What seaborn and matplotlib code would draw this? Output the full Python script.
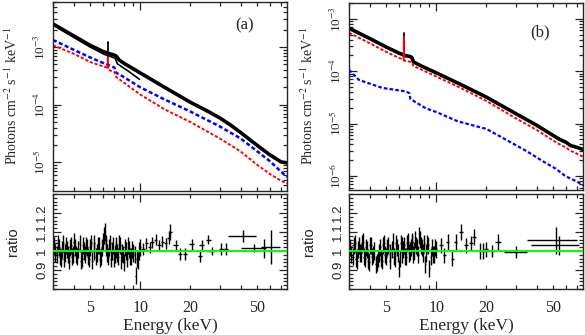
# Unfolded spectra + data/model ratio, two sources side by side
import numpy as np
import pandas as pd
import matplotlib
matplotlib.use("Agg")
import matplotlib.pyplot as plt
import seaborn as sns
from matplotlib.ticker import LogLocator, FixedLocator, MultipleLocator, FuncFormatter, NullFormatter

# ------------------------------------------
# DATA
# ------------------------------------------

# panel (a) spectra
a_black_e = [3, 4, 5, 6, 6.4, 7.0, 7.2, 7.5, 8, 10, 14, 20, 25, 30, 35, 40, 50, 60, 70, 76]
a_black_f = [2.5e-3, 1.55e-3, 1.07e-3, 8.3e-4, 7.8e-4, 7.2e-4, 6.9e-4, 5.9e-4,
             5.2e-4, 3.55e-4, 2.0e-4, 1.10e-4, 7.9e-5, 5.9e-5, 4.4e-5, 3.3e-5, 2.0e-5,
             1.35e-5, 1.02e-5, 9.8e-6]
a_black2_e = [3, 5, 6.1, 6.6, 7.1, 7.3, 8.5, 9.9]
a_black2_f = [2.4e-3, 1.0e-3, 7.4e-4, 6.9e-4, 6.3e-4, 5.1e-4, 3.8e-4, 2.75e-4]
a_line_e = [6.4, 6.4]        # Fe K line in the black data
a_line_f = [7.8e-4, 1.23e-3]
a_blue_e = [3, 4, 5, 5.7, 6.4, 7.0, 7.2, 8, 10, 14, 20, 30, 40, 50, 60, 70, 76]
a_blue_f = [1.32e-3, 8.9e-4, 6.6e-4, 5.6e-4, 4.9e-4, 4.4e-4, 3.55e-4, 3.0e-4, 2.0e-4, 1.23e-4,
            7.6e-5, 4.2e-5, 2.6e-5, 1.58e-5, 1.05e-5, 6.9e-6, 5.6e-6]
a_red_e = [3, 4, 5, 6, 6.38, 6.4, 6.42, 7.0, 7.2, 8, 10, 14, 20, 30, 40, 50, 60, 70, 76]
a_red_f = [1.07e-3, 7.6e-4, 5.5e-4, 4.6e-4, 4.4e-4, 7.8e-4, 4.0e-4, 3.7e-4, 3.0e-4, 2.4e-4,
           1.5e-4, 8.3e-5, 5.0e-5, 2.6e-5, 1.55e-5, 9.2e-6, 6.3e-6, 4.8e-6, 4.3e-6]

# panel (b) spectra
b_e = [3, 4, 5, 6, 6.38, 6.4, 6.42, 7.0, 7.15, 7.3, 8, 10, 14, 20, 30, 40, 50, 55, 60, 64, 68, 72, 76]
b_black_f = [6.6e-4, 4.2e-4, 2.9e-4, 2.2e-4, 2.05e-4, 2.05e-4, 2.0e-4, 1.9e-4, 1.82e-4, 1.51e-4,
             1.29e-4, 9.3e-5, 5.6e-5, 3.2e-5, 1.55e-5, 9.3e-6, 6.0e-6, 5.0e-6, 4.4e-6, 3.8e-6,
             3.6e-6, 3.4e-6, 3.2e-6]
b_red_f = [5.4e-4, 3.4e-4, 2.35e-4, 1.78e-4, 1.66e-4, 4.5e-4, 1.58e-4, 1.51e-4, 1.45e-4, 1.26e-4,
           1.10e-4, 7.9e-5, 4.8e-5, 2.7e-5, 1.26e-5, 7.6e-6, 4.8e-6, 4.0e-6, 3.5e-6, 3.0e-6,
           2.8e-6, 2.5e-6, 2.35e-6]
b_line_e = [6.4, 6.4]        # Fe K line in the black data
b_line_f = [2.05e-4, 5.4e-4]
b_blue_e = [3, 3.44, 4.74, 6.57, 6.9, 7.0, 8.67, 10, 13.5, 20, 27.6, 35, 43.7, 52, 60, 70, 76]
b_blue_f = [1.06e-4, 6.8e-5, 4.8e-5, 4.1e-5, 3.8e-5, 2.95e-5, 1.95e-5, 1.66e-5, 1.10e-5, 7.9e-6,
            4.5e-6, 2.95e-6, 1.9e-6, 1.38e-6, 9.8e-7, 7.8e-7, 6.6e-7]

# ratio, dense part below 10 keV (two interleaved data groups)
lo_e1 = [3.05, 3.15, 3.25, 3.35, 3.45, 3.55, 3.65, 3.75, 3.85, 3.95,
         4.07, 4.2, 4.33, 4.46, 4.6, 4.74, 4.88, 5.02, 5.17, 5.32,
         5.48, 5.64, 5.8, 5.96, 6.12, 6.28, 6.44, 6.6, 6.77, 6.94,
         7.12, 7.3, 7.5, 7.7, 7.9, 8.1, 8.35, 8.6, 8.85, 9.1,
         9.4, 9.7, 10.0]
lo_e2 = [3.1, 3.2, 3.3, 3.4, 3.5, 3.6, 3.7, 3.8, 3.9, 4.0,
         4.13, 4.26, 4.4, 4.53, 4.67, 4.81, 4.95, 5.1, 5.25, 5.4,
         5.56, 5.72, 5.88, 6.04, 6.2, 6.36, 6.52, 6.68, 6.85, 7.03,
         7.2, 7.4, 7.6, 7.8, 8.0, 8.22, 8.47, 8.72, 8.97, 9.25,
         9.55, 9.85]

a_ratio1 = [1.03, 0.98, 1.02, 0.96, 1.04, 0.99, 1.01, 0.95, 1.03, 0.98,
            1.02, 0.97, 1.04, 0.96, 1.00, 1.03, 0.97, 1.02, 0.95, 1.04,
            0.99, 1.03, 0.97, 1.05, 1.10, 1.02, 0.97, 1.04, 1.00, 0.96,
            1.03, 0.99, 1.04, 0.95, 0.98, 1.02, 0.96, 1.01, 0.97, 0.99,
            0.87, 0.95, 1.02]
a_ratio2 = [0.99, 1.04, 0.97, 1.01, 0.96, 1.03, 0.98, 1.02, 0.97, 1.05,
            0.98, 1.01, 0.95, 1.03, 0.98, 1.02, 0.96, 1.04, 1.00, 0.97,
            1.03, 0.96, 1.02, 1.08, 1.04, 0.99, 1.02, 0.96, 1.03, 0.98,
            1.01, 0.97, 1.03, 0.99, 0.94, 1.00, 1.03, 0.97, 1.01, 0.98,
            0.96, 1.00]
b_ratio1 = [1.02, 0.97, 1.04, 0.95, 1.03, 0.99, 1.05, 0.96, 1.01, 0.94,
            1.03, 0.98, 0.93, 0.96, 1.02, 0.95, 1.04, 0.97, 1.03, 0.99,
            1.05, 0.96, 1.02, 0.91, 1.04, 0.98, 1.03, 0.97, 1.05, 1.00,
            1.04, 0.98, 1.06, 1.02, 1.08, 1.03, 0.99, 0.93, 1.04, 0.91,
            1.02, 0.98, 1.01]
b_ratio2 = [0.98, 1.03, 0.96, 1.01, 0.99, 1.04, 0.97, 1.02, 0.95, 1.03,
            0.97, 1.00, 0.94, 0.99, 0.96, 1.03, 0.98, 1.02, 0.95, 1.01,
            0.97, 1.04, 0.99, 0.96, 1.03, 1.01, 0.97, 1.04, 0.99, 1.02,
            1.05, 1.00, 1.03, 0.98, 1.06, 1.02, 1.04, 0.99, 1.03, 0.97,
            0.98, 1.02]
lo_xerr = 0.055
lo_yerr = 0.045

# ratio, sparse part above 10 keV
a_hi_e = [10.4, 10.9, 11.4, 11.8, 12.4, 13.0, 13.6, 14.2, 14.8, 15.2, 16.3, 17.4, 18.6,
          20.4, 22.8, 23.4, 25.6, 26.8, 30.7, 32.8, 41.5, 48.0, 55.4, 61.0]
a_hi_r = [1.01, 1.04, 1.02, 1.045, 1.06, 1.03, 1.05, 1.04, 1.07, 1.10, 1.03, 0.985, 0.985,
          1.035, 0.975, 1.03, 1.06, 1.0, 1.01, 1.01, 1.08, 1.015, 1.015, 1.02]
a_hi_xerr = [0.25, 0.25, 0.25, 0.3, 0.3, 0.3, 0.3, 0.3, 0.3, 0.4, 0.5, 0.5, 0.6,
             0.7, 0.7, 0.8, 0.9, 1.5, 1.0, 1.0, 8.0, 8.0, 1.2, 8.0]
a_hi_yerr = [0.03, 0.03, 0.03, 0.03, 0.03, 0.03, 0.03, 0.03, 0.035, 0.04, 0.03, 0.03, 0.03,
             0.03, 0.03, 0.03, 0.025, 0.02, 0.03, 0.03, 0.03, 0.02, 0.05, 0.09]

b_hi_e = [10.7, 11.2, 11.7, 12.5, 13.1, 14.1, 15.1, 16.2, 16.9, 18.2, 19.0, 19.9, 21.5,
          23.4, 30.2, 52.5, 54.5]
b_hi_r = [1.03, 0.977, 1.047, 0.96, 1.047, 1.10, 1.03, 1.04, 1.074, 1.0, 1.0, 1.01, 1.0,
          1.047, 0.995, 1.056, 1.03]
b_hi_xerr = [0.25, 0.25, 0.25, 0.3, 0.3, 0.35, 0.4, 0.4, 0.45, 0.45, 0.5, 0.5, 1.0,
             1.0, 4.8, 17.5, 17.5]
b_hi_yerr = [0.04, 0.04, 0.04, 0.04, 0.04, 0.04, 0.04, 0.04, 0.04, 0.04, 0.04, 0.04, 0.03,
             0.04, 0.03, 0.07, 0.05]

# ------------------------------------------
# FIGURE SETUP
# ------------------------------------------

sns.set_style("ticks")
plt.rcParams['font.family'] = ['Liberation Serif', 'DejaVu Serif']
plt.rcParams['mathtext.fontset'] = 'stix'

fig = plt.figure(figsize=(5.85, 3.35), dpi=100)

ax_a = fig.add_axes([0.0906, 0.430, 0.400, 0.564])
ax_ar = fig.add_axes([0.0906, 0.137, 0.400, 0.284])
ax_b = fig.add_axes([0.5966, 0.433, 0.400, 0.558])
ax_br = fig.add_axes([0.5966, 0.137, 0.400, 0.284])

dash = (0, (1.6, 1.0))

# ------------------------------------------
# SPECTRA
# ------------------------------------------

sns.lineplot(x=a_blue_e, y=a_blue_f, ax=ax_a, color='#0000ff', lw=1.8, linestyle=dash,
             estimator=None, sort=False)
sns.lineplot(x=a_red_e, y=a_red_f, ax=ax_a, color='#ff0000', lw=1.4, linestyle=dash,
             estimator=None, sort=False)
sns.lineplot(x=a_black_e, y=a_black_f, ax=ax_a, color='black', lw=2.6,
             estimator=None, sort=False)
sns.lineplot(x=a_black2_e, y=a_black2_f, ax=ax_a, color='black', lw=1.2,
             estimator=None, sort=False)
sns.lineplot(x=a_line_e, y=a_line_f, ax=ax_a, color='black', lw=1.3,
             estimator=None, sort=False)

sns.lineplot(x=b_blue_e, y=b_blue_f, ax=ax_b, color='#0000ff', lw=1.6, linestyle=dash,
             estimator=None, sort=False)
sns.lineplot(x=b_e, y=b_black_f, ax=ax_b, color='black', lw=2.6,
             estimator=None, sort=False)
sns.lineplot(x=b_line_e, y=b_line_f, ax=ax_b, color='black', lw=1.3,
             estimator=None, sort=False)
sns.lineplot(x=b_e, y=b_red_f, ax=ax_b, color='#ff0000', lw=1.4, linestyle=dash,
             estimator=None, sort=False)

ax_a.set_ylim(3.2e-6, 6e-3)
ax_b.set_ylim(5.4e-7, 2.0e-3)

# ------------------------------------------
# RATIO PANELS
# ------------------------------------------

for ax, r1, r2, he, hr, hx, hy in [(ax_ar, a_ratio1, a_ratio2, a_hi_e, a_hi_r, a_hi_xerr, a_hi_yerr),
                                   (ax_br, b_ratio1, b_ratio2, b_hi_e, b_hi_r, b_hi_xerr, b_hi_yerr)]:
    ax.errorbar(lo_e1, r1, xerr=lo_xerr, yerr=lo_yerr, fmt='none', ecolor='black', elinewidth=1.0)
    ax.errorbar(lo_e2, r2, xerr=lo_xerr, yerr=lo_yerr, fmt='none', ecolor='black', elinewidth=1.0)
    ax.errorbar(he, hr, xerr=hx, yerr=hy, fmt='none', ecolor='black', elinewidth=1.0)
    ax.axhline(1.0, color='#00ff00', lw=1.4, zorder=5)
    ax.set_ylim(0.8, 1.3)
    ax.yaxis.set_major_locator(FixedLocator([0.9, 1.0, 1.1, 1.2]))
    ax.yaxis.set_major_formatter(FuncFormatter(lambda v, p: f"{v:g}"))
    ax.yaxis.set_minor_locator(MultipleLocator(0.02))
    for lab in ax.get_yticklabels():
        lab.set_family(['Liberation Sans', 'DejaVu Sans'])
    ax.set_ylabel("ratio", family=['Liberation Sans', 'DejaVu Sans'], fontsize=10.5)
    ax.set_xlabel("Energy (keV)", fontsize=12.5, labelpad=1)

# ------------------------------------------
# AXES STYLING
# ------------------------------------------

for ax in [ax_a, ax_b, ax_ar, ax_br]:
    ax.set_xscale('log')
    ax.set_xlim(3, 76)
    ax.xaxis.set_major_locator(FixedLocator([10]))
    ax.xaxis.set_minor_locator(FixedLocator([3, 4, 5, 6, 7, 8, 9, 20, 30, 40, 50, 60, 70]))
    ax.tick_params(which='both', direction='in', top=True, right=True, width=0.9)
    ax.tick_params(which='major', length=6)
    ax.tick_params(which='minor', length=3)
    ax.tick_params(axis='y', labelrotation=90, labelsize=9.5)
    for s in ax.spines.values():
        s.set_linewidth(1.0)

for ax in [ax_a, ax_b]:
    ax.set_yscale('log')
    ax.yaxis.set_major_locator(LogLocator(base=10))
    ax.yaxis.set_minor_locator(LogLocator(base=10, subs=np.arange(2, 10)))
    ax.yaxis.set_major_formatter(FuncFormatter(lambda v, p: r"10$^{%d}$" % round(np.log10(v))))
    ax.yaxis.set_minor_formatter(NullFormatter())
    ax.tick_params(axis='x', labelbottom=False)
    ax.xaxis.set_minor_formatter(NullFormatter())
    ax.set_ylabel(r"Photons cm$^{-2}$ s$^{-1}$ keV$^{-1}$", fontsize=10)

for ax in [ax_ar, ax_br]:
    ax.xaxis.set_major_formatter(FuncFormatter(lambda v, p: f"{v:g}"))
    ax.xaxis.set_minor_formatter(FuncFormatter(lambda v, p: f"{v:g}" if v in (5, 20, 50) else ""))
    ax.tick_params(axis='x', which='both', labelsize=11.5, pad=8)

for ax in [ax_a, ax_b, ax_ar, ax_br]:
    for lab in ax.get_yticklabels():
        lab.set_va('center')
    ax.yaxis.set_label_coords(-0.14, 0.5)

ax_a.text(0.82, 0.878, "(a)", transform=ax_a.transAxes, ha='center', va='center', fontsize=12)
ax_b.text(0.816, 0.845, "(b)", transform=ax_b.transAxes, ha='center', va='center', fontsize=12)

fig.savefig("out.png", dpi=100)
